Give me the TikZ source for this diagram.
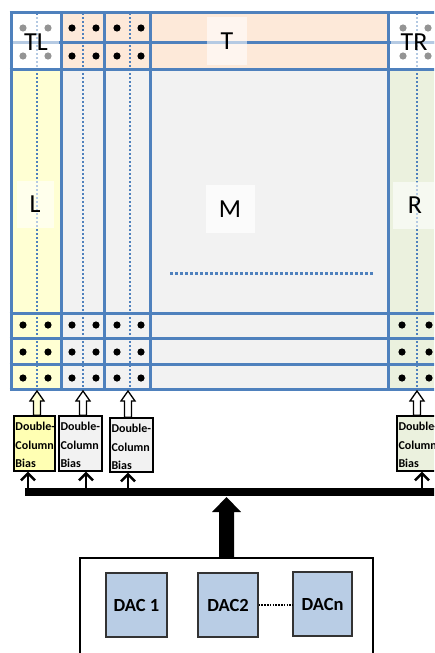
\documentclass[tikz,border=0pt]{standalone}
\usepackage{fontspec}
\setmainfont{Carlito}
\setsansfont{Carlito}
\usetikzlibrary{arrows.meta,calc}
\definecolor{gridblue}{HTML}{4F81BD}
\definecolor{peach}{HTML}{FDE9D9}
\definecolor{paleyellow}{HTML}{FFFFD3}
\definecolor{palegray}{HTML}{F2F2F2}
\definecolor{palegreen}{HTML}{EBF1DE}
\definecolor{dacblue}{HTML}{B9CDE5}
\begin{document}
\begin{tikzpicture}[x=1pt,y=-1pt,
  gline/.style={draw=gridblue,line width=3pt},
  gdot/.style={draw=gridblue,line width=2.2pt,dash pattern=on 2.2pt off 1.8pt},
  blackdot/.style={fill=black},
  lbl/.style={fill=white,fill opacity=0.58,text opacity=1,font=\fontsize{26}{26}\selectfont,inner sep=0pt},
  biasbox/.style={draw=black,line width=1.4pt,inner sep=0pt,minimum height=55pt},
  biastext/.style={anchor=base west,inner sep=0pt,font=\bfseries\fontsize{12}{12}\selectfont},
  hollow/.style={draw=black,line width=1.3pt,fill=white},
  thinarrow/.style={draw=black,line width=2.4pt,-{Straight Barb[length=7pt,width=14pt]}},
  dac/.style={draw=black!80,line width=1.3pt,fill=dacblue,font=\bfseries\fontsize{18.5}{18.5}\selectfont,minimum height=64pt},
]
\useasboundingbox (0,0) rectangle (434,653);
\begin{scope}
\clip (0,0) rectangle (434,653);
% region fills
\fill[white] (11,12) rectangle (61,69);
\fill[peach] (61,12) rectangle (388,69);
\fill[white] (388,12) rectangle (460,69);
\fill[paleyellow] (11,69) rectangle (61,389);
\fill[palegray] (61,69) rectangle (388,389);
\fill[palegreen] (388,69) rectangle (460,389);
% dotted verticals
\foreach \x in {37,83,130,417} \draw[gdot] (\x,13) -- (\x,389);
% dotted horizontal in M
\draw[gdot,line width=3pt,dash pattern=on 3pt off 2pt] (170,273) -- (373,273);
% grid lines
\foreach \x in {11,61,104,150,388} \draw[gline] (\x,12) -- (\x,389);
\foreach \y in {12,42,69,313,338,364,389} \draw[gline] (9.5,\y) -- (460,\y);
% dots top
\foreach \y in {28,56} {
  \foreach \x in {23,48,72,96,117,141,403,428} \fill[blackdot] (\x,\y) circle (3.6);
}
% dots bottom
\foreach \y in {325,352,378} {
  \foreach \x in {23,48,72,96,117,141,402,429} \fill[blackdot] (\x,\y) circle (3.6);
}
% labels
\node[lbl,minimum width=46pt,minimum height=50pt] (tl) at (36,42) {TL};
\node[lbl,minimum width=40pt,minimum height=48pt] (t) at (227,41) {T};
\node[lbl,minimum width=46pt,minimum height=50pt] (tr) at (414,42) {TR};
\node[lbl,minimum width=37pt,minimum height=47pt] (l) at (35,204) {L};
\node[lbl,fill opacity=0.75,minimum width=49pt,minimum height=48pt] (m) at (230,209) {M};
\node[lbl,minimum width=44pt,minimum height=47pt] (r) at (415,205) {R};
% bias boxes
\node[biasbox,fill=paleyellow!85!yellow,minimum width=41pt] (b1) at (34.5,443.5) {};
\node[biasbox,fill=palegray,minimum width=43pt] (b2) at (80.5,443.5) {};
\node[biasbox,fill=palegray,minimum width=43pt,minimum height=54pt] (b3) at (131.5,445) {};
\node[biasbox,fill=palegreen,minimum width=48pt] (b4) at (421,443.5) {};
\foreach \i in {1,2,3,4} {
  \node[biastext] (bt\i a) at ($(b\i.north west)+(2,15)$) {Double-};
  \node[biastext] (bt\i b) at ($(b\i.north west)+(2,34)$) {Column};
  \node[biastext] (bt\i c) at ($(b\i.north west)+(2,52)$) {Bias};
}
% hollow arrows from bias boxes to grid
\coordinate (g1) at (37,391);
\coordinate (g2) at (83,391);
\coordinate (g3) at (128,391);
\coordinate (g4) at (417,391);
\foreach \i/\f in {1/paleyellow,2/white,3/white,4/white} {
  \draw[hollow,fill=\f] ($(g\i |- b\i.north)+(-3.5,0)$) -- ($(g\i)+(-3.5,10)$) -- ($(g\i)+(-7,10)$) -- (g\i)
     -- ($(g\i)+(7,10)$) -- ($(g\i)+(3.5,10)$) -- ($(g\i |- b\i.north)+(3.5,0)$) -- cycle;
}
% bus
\coordinate (busL) at (25,492);
\coordinate (busR) at (450,492);
\draw[line width=8pt] (busL) -- (busR);
\coordinate (a1) at (28,489);
\coordinate (a2) at (86,489);
\coordinate (a3) at (128,489);
\coordinate (a4) at (422,489);
\foreach \i in {1,2,3,4} \draw[thinarrow] (a\i) -- (a\i |- b\i.south);
% DAC block
\node[draw=black,line width=1.4pt,minimum width=293pt,minimum height=110pt,inner sep=0pt] (dacbox) at (226.5,613) {};
\node[dac,minimum width=61pt] (d1) at (136.5,605) {DAC 1};
\node[dac,minimum width=60pt] (d2) at (228,605) {DAC2};
\node[dac,minimum width=59pt] (dn) at (322.5,604) {DACn};
\draw[black,line width=1.6pt,dash pattern=on 1.6pt off 1.2pt] (d2.east) -- (dn.west |- d2.east);
% big arrow to bus
\coordinate (bt) at (226.5,497);
\fill[black] ($(dacbox.north)+(-7.5,0)$) -- ($(bt)+(-7.5,15)$) -- ($(bt)+(-14.5,15)$) -- (bt)
   -- ($(bt)+(14.5,15)$) -- ($(bt)+(7.5,15)$) -- ($(dacbox.north)+(7.5,0)$) -- cycle;
\end{scope}
\end{tikzpicture}
\end{document}
